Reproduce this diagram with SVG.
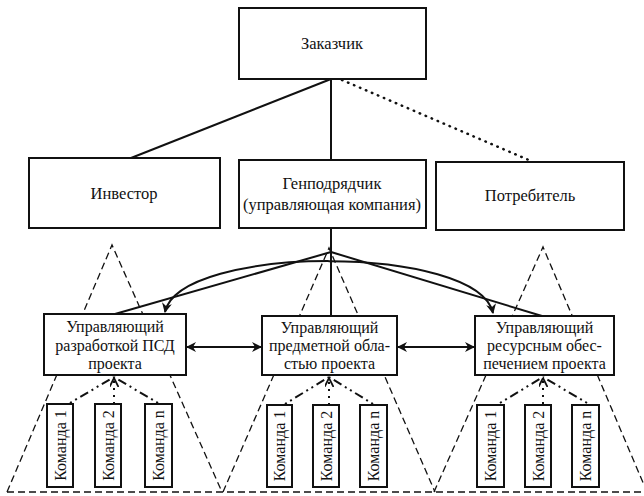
<svg xmlns="http://www.w3.org/2000/svg" width="644" height="496" viewBox="0 0 644 496">
<style>
  .box{fill:#fff;stroke:#111;stroke-width:2}
  .t{font-family:"Liberation Serif","Times New Roman",serif;font-size:16.5px;fill:#111;text-anchor:middle}
  .tm{font-family:"Liberation Serif","Times New Roman",serif;font-size:16px;fill:#111;text-anchor:middle}
  .tk{font-family:"Liberation Serif","Times New Roman",serif;font-size:16px;fill:#111;text-anchor:middle}
  .ln{stroke:#111;stroke-width:2;fill:none}
  .dot{stroke:#111;stroke-width:2.5;fill:none;stroke-dasharray:0.5 6;stroke-linecap:round}
  .tri{stroke:#111;stroke-width:1.3;fill:none;stroke-dasharray:7 4}
  .dd{stroke:#111;stroke-width:2;fill:none;stroke-dasharray:2 4 2 4 9 4}
  .vd{stroke:#111;stroke-width:2;fill:none;stroke-dasharray:2 5}
</style>
<defs>
  <marker id="ah2" viewBox="0 0 10 10" refX="9" refY="5" markerWidth="10" markerHeight="10" orient="auto-start-reverse" markerUnits="userSpaceOnUse">
    <path d="M0,0 L10,5 L0,10 L3,5 z" fill="#111"/>
  </marker>
  <marker id="chev" viewBox="0 0 10 10" refX="10" refY="5" markerWidth="9" markerHeight="9" orient="auto" markerUnits="userSpaceOnUse">
    <path d="M0,0 L10,5 L0,10" fill="none" stroke="#111" stroke-width="2"/>
  </marker>
</defs>

<g id="triangles">
  <polyline class="tri" points="7,492 112,245 222,492"/>
  <polyline class="tri" points="223,492 329,248 435,492"/>
  <polyline class="tri" points="434,492 543,247 647,492"/>
  <line class="tri" x1="7" y1="492" x2="644" y2="492"/>
</g>

<g id="connectors">
  <line class="ln" x1="331" y1="79" x2="131" y2="158"/>
  <line class="ln" x1="331" y1="79" x2="331" y2="160"/>
  <line class="dot" x1="342" y1="80" x2="531" y2="161"/>
  <line class="ln" x1="331" y1="228" x2="331" y2="316"/>
  <line class="ln" x1="331" y1="252" x2="115" y2="314"/>
  <line class="ln" x1="331" y1="252" x2="542" y2="316"/>
  <path class="ln" d="M165,312 C180,244 478,244 493,313" marker-start="url(#ah2)" marker-end="url(#ah2)"/>
  <line class="ln" x1="187" y1="347" x2="261" y2="347" marker-start="url(#ah2)" marker-end="url(#ah2)"/>
  <line class="ln" x1="398" y1="347" x2="474" y2="347" marker-start="url(#ah2)" marker-end="url(#ah2)"/>
  <line class="dd" x1="70" y1="403" x2="114" y2="377"/>
  <line class="vd" x1="114" y1="404" x2="114" y2="378" marker-end="url(#chev)"/>
  <line class="dd" x1="158" y1="403" x2="114" y2="377"/>
  <line class="dd" x1="285" y1="404" x2="329" y2="377"/>
  <line class="vd" x1="329" y1="405" x2="329" y2="378" marker-end="url(#chev)"/>
  <line class="dd" x1="373" y1="404" x2="329" y2="377"/>
  <line class="dd" x1="500" y1="403" x2="543" y2="377"/>
  <line class="vd" x1="543" y1="404" x2="543" y2="378" marker-end="url(#chev)"/>
  <line class="dd" x1="587" y1="403" x2="543" y2="377"/>
</g>

<g id="zakazchik">
  <rect class="box" x="239" y="8" width="187" height="71"/>
  <text class="t" x="332" y="49">Заказчик</text>
</g>
<g id="investor">
  <rect class="box" x="29" y="158" width="191" height="70"/>
  <text class="t" x="124" y="199">Инвестор</text>
</g>
<g id="genpodryadchik">
  <rect class="box" x="239" y="160" width="187" height="68"/>
  <text class="t" x="332" y="189">Генподрядчик</text>
  <text class="t" x="332" y="210">(управляющая компания)</text>
</g>
<g id="potrebitel">
  <rect class="box" x="436" y="162" width="188" height="68"/>
  <text class="t" x="530" y="201">Потребитель</text>
</g>

<g id="mgr-psd">
  <rect class="box" x="44" y="314" width="142" height="61"/>
  <text class="tm" x="115" y="332">Управляющий</text>
  <text class="tm" x="115" y="351">разработкой ПСД</text>
  <text class="tm" x="115" y="369">проекта</text>
</g>
<g id="mgr-scope">
  <rect class="box" x="262" y="316" width="135" height="59"/>
  <text class="tm" x="329.5" y="333">Управляющий</text>
  <text class="tm" x="329.5" y="351">предметной обла-</text>
  <text class="tm" x="329.5" y="369">стью проекта</text>
</g>
<g id="mgr-resource">
  <rect class="box" x="475" y="316" width="139" height="59"/>
  <text class="tm" x="544.5" y="333">Управляющий</text>
  <text class="tm" x="544.5" y="351">ресурсным обес-</text>
  <text class="tm" x="544.5" y="369">печением проекта</text>
</g>

<g id="team-l1"><rect class="box" x="47" y="404" width="26" height="83"/><text class="tk" transform="translate(65.5,445.5) rotate(-90)">Команда 1</text></g>
<g id="team-l2"><rect class="box" x="95" y="404" width="26" height="83"/><text class="tk" transform="translate(113.5,445.5) rotate(-90)">Команда 2</text></g>
<g id="team-ln"><rect class="box" x="145" y="404" width="27" height="83"/><text class="tk" transform="translate(164,445.5) rotate(-90)">Команда n</text></g>

<g id="team-m1"><rect class="box" x="267" y="405" width="25" height="82"/><text class="tk" transform="translate(285,446) rotate(-90)">Команда 1</text></g>
<g id="team-m2"><rect class="box" x="313" y="405" width="26" height="82"/><text class="tk" transform="translate(331.5,446) rotate(-90)">Команда 2</text></g>
<g id="team-mn"><rect class="box" x="360" y="405" width="27" height="82"/><text class="tk" transform="translate(379,446) rotate(-90)">Команда n</text></g>

<g id="team-r1"><rect class="box" x="477" y="405" width="27" height="82"/><text class="tk" transform="translate(496,446) rotate(-90)">Команда 1</text></g>
<g id="team-r2"><rect class="box" x="525" y="405" width="26" height="82"/><text class="tk" transform="translate(543.5,446) rotate(-90)">Команда 2</text></g>
<g id="team-rn"><rect class="box" x="572" y="405" width="27" height="82"/><text class="tk" transform="translate(591,446) rotate(-90)">Команда n</text></g>
</svg>
